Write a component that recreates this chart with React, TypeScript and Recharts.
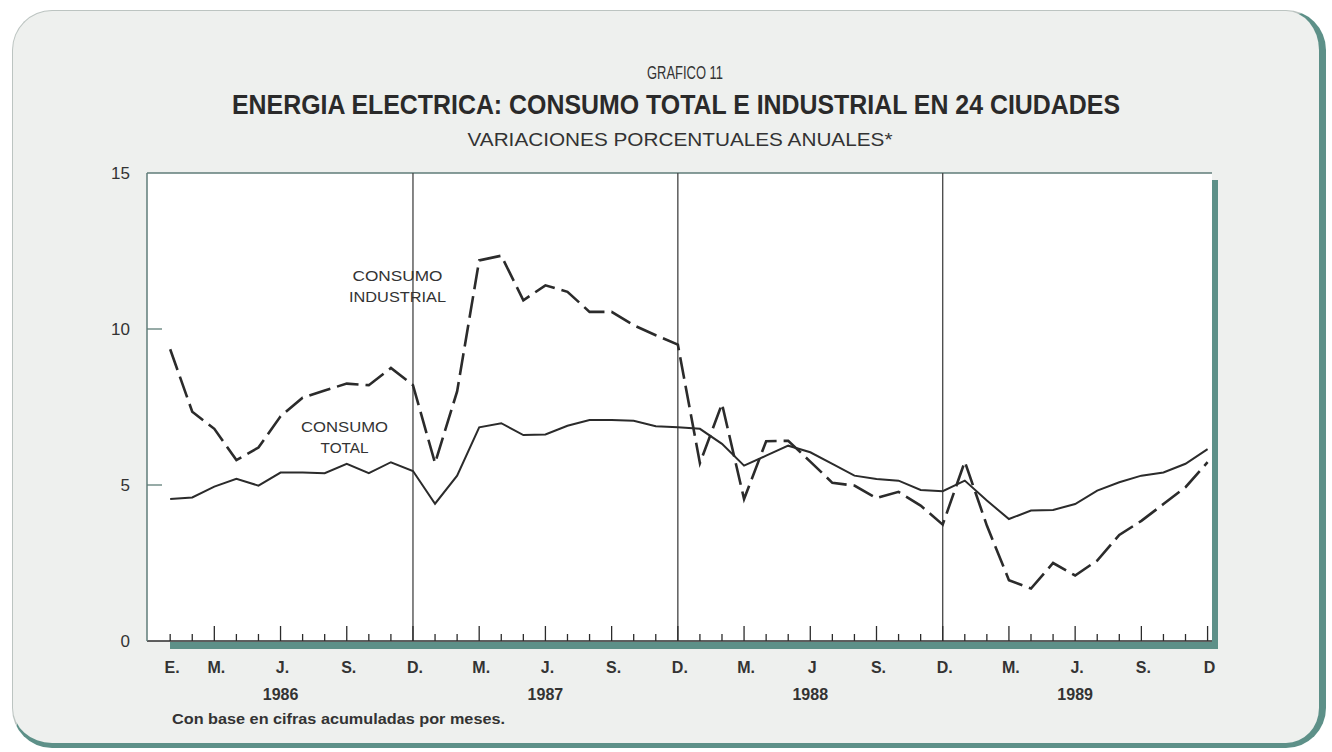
import React from 'react';
import { LineChart, Line, XAxis, YAxis, ReferenceLine, ReferenceDot } from 'recharts';

/**
 * Gráfico 11 — energía eléctrica: consumo total e industrial en 24 ciudades.
 * Variaciones porcentuales anuales, enero 1986 – diciembre 1989 (mensual).
 */

// tick labels under the months (E. = enero ... D. = diciembre)
const tickLabels = [
  'E.', '', 'M.', '', '', 'J.', '', '', 'S.', '', '', 'D.',
  '', '', 'M.', '', '', 'J.', '', '', 'S.', '', '', 'D.',
  '', '', 'M.', '', '', 'J', '', '', 'S.', '', '', 'D.',
  '', '', 'M.', '', '', 'J.', '', '', 'S.', '', '', 'D',
];
const years = ['1986', '1987', '1988', '1989'];

const consumoTotal = [
  4.55, 4.6, 4.95, 5.2, 4.98, 5.4, 5.4, 5.38, 5.68, 5.38, 5.73, 5.45,
  4.4, 5.3, 6.85, 6.98, 6.6, 6.62, 6.9, 7.08, 7.08, 7.06, 6.88, 6.85,
  6.8, 6.32, 5.62, 5.94, 6.26, 6.05, 5.68, 5.3, 5.19, 5.14, 4.84, 4.8,
  5.14, 4.5, 3.91, 4.18, 4.2, 4.39, 4.82, 5.09, 5.3, 5.4, 5.68, 6.15,
];

const consumoIndustrial = [
  9.35, 7.35, 6.8, 5.8, 6.2, 7.2, 7.8, 8.03, 8.25, 8.2, 8.75, 8.2,
  5.7, 8.0, 12.2, 12.35, 10.92, 11.4, 11.19, 10.55, 10.55, 10.12, 9.8, 9.5,
  5.7, 7.6, 4.55, 6.4, 6.42, 5.75, 5.07, 4.98, 4.58, 4.78, 4.34, 3.73,
  5.75, 3.7, 1.95, 1.68, 2.5, 2.1, 2.58, 3.4, 3.85, 4.39, 4.93, 5.73,
];

const yTicks = [0, 5, 10, 15];
const separators = [11, 23, 35];

const INK = '#2b2b2b';
const TEAL = '#5d9088';
const FONT = '"Liberation Sans", Arial, Helvetica, sans-serif';

const data = consumoTotal.map((t, i) => ({ i, total: t, industrial: consumoIndustrial[i] }));
const monthIdx = data.map((d) => d.i);

function MonthTick(props: any) {
  const { x, y, payload } = props;
  const i = payload.value as number;
  const m = i % 12;
  const tall = m === 2 || m === 5 || m === 8 || m === 11;
  const label = tickLabels[i];
  const year = m === 5 ? years[Math.floor(i / 12)] : null;
  return (
    <g>
      <line x1={x} y1={y} x2={x} y2={y - (tall ? 15 : 7)} stroke={INK} strokeWidth={1.3} />
      {label && (
        <text x={x + 2} y={y + 32} textAnchor="middle" fontSize={16} fontWeight={600} fill="#333" fontFamily={FONT}>
          {label}
        </text>
      )}
      {year && (
        <text x={x} y={y + 59} textAnchor="middle" fontSize={16} fontWeight={600} fill="#333" fontFamily={FONT}>
          {year}
        </text>
      )}
    </g>
  );
}

function LeftTick(props: any) {
  const { x, y, payload } = props;
  const v = payload.value as number;
  return (
    <g>
      {(v === 5 || v === 10) && <line x1={x} y1={y} x2={x + 15} y2={y} stroke="#5f7d78" strokeWidth={1.3} />}
      <text x={x - 17} y={y + 6} textAnchor="end" fontSize={17} fill="#333" fontFamily={FONT}>{v}</text>
    </g>
  );
}

function RightTick(props: any) {
  const { x, y, payload } = props;
  const v = payload.value as number;
  return (
    <g>
      {(v === 5 || v === 10) && <line x1={x - 15} y1={y} x2={x} y2={y} stroke="#5f7d78" strokeWidth={1.3} />}
      <text x={x + 12} y={y + 6} textAnchor="start" fontSize={17} fill="#333" fontFamily={FONT}>{v}</text>
    </g>
  );
}

function textShape(lines: string[], widths: number[]) {
  return (p: any) => (
    <g>
      {lines.map((s, k) => (
        <text
          key={k}
          x={p.cx}
          y={p.cy + k * 21}
          textAnchor="middle"
          fontSize={15}
          fill="#333"
          fontFamily={FONT}
          textLength={widths[k]}
          lengthAdjust="spacingAndGlyphs"
        >
          {s}
        </text>
      ))}
    </g>
  );
}

export default function App() {
  return (
    <div style={{ position: 'absolute', left: 0, top: 0, width: 1332, height: 752, background: '#fff', overflow: 'hidden' }}>
      {/* scanned page card */}
      <div
        style={{
          position: 'absolute', left: 12, top: 10, width: 1314, height: 738,
          boxSizing: 'border-box', borderRadius: 40, background: '#eef0ee',
          borderTop: '1.5px solid #bcc4c1', borderLeft: '1.5px solid #bcc4c1',
          borderRight: `7px solid ${TEAL}`, borderBottom: `5px solid ${TEAL}`,
        }}
      />
      {/* plot paper + its drop shadow */}
      <div style={{ position: 'absolute', left: 1212, top: 180, width: 6, height: 469, background: TEAL }} />
      <div style={{ position: 'absolute', left: 170, top: 642, width: 1048, height: 7, background: TEAL }} />
      <div style={{ position: 'absolute', left: 147, top: 173, width: 1065, height: 468, background: '#fff' }} />

      <svg width={1332} height={752} style={{ position: 'absolute', left: 0, top: 0 }} fontFamily={FONT}>
        <text x={685} y={79} textAnchor="middle" fontSize={18} fill="#333" textLength={76} lengthAdjust="spacingAndGlyphs">
          GRAFICO 11
        </text>
        <text x={676} y={114} textAnchor="middle" fontSize={27} fontWeight={700} fill="#2a2a2a" textLength={888} lengthAdjust="spacingAndGlyphs">
          ENERGIA ELECTRICA: CONSUMO TOTAL E INDUSTRIAL EN 24 CIUDADES
        </text>
        <text x={680} y={146} textAnchor="middle" fontSize={18} fill="#333" textLength={425} lengthAdjust="spacingAndGlyphs">
          VARIACIONES PORCENTUALES ANUALES*
        </text>
        <text x={172} y={724} fontSize={15} fontWeight={600} fill="#333" textLength={333} lengthAdjust="spacingAndGlyphs">
          Con base en cifras acumuladas por meses.
        </text>
      </svg>

      <div style={{ position: 'absolute', left: 0, top: 0 }}>
        <LineChart width={1332} height={752} data={data} margin={{ top: 173, right: 70, bottom: 31, left: 97 }}>
          <XAxis
            dataKey="i"
            type="number"
            domain={[-1.05, 47.2]}
            ticks={monthIdx}
            interval={0}
            height={80}
            tickSize={0}
            tickMargin={0}
            tick={<MonthTick />}
            axisLine={{ stroke: INK, strokeWidth: 1.5 }}
            tickLine={false}
            allowDataOverflow
          />
          <YAxis
            yAxisId="l"
            orientation="left"
            width={50}
            domain={[0, 15]}
            ticks={yTicks}
            tickSize={0}
            tickMargin={0}
            tick={<LeftTick />}
            axisLine={{ stroke: '#5f7d78', strokeWidth: 1.5 }}
            tickLine={false}
          />
          <YAxis
            yAxisId="r"
            orientation="right"
            width={50}
            domain={[0, 15]}
            ticks={yTicks}
            tickSize={0}
            tickMargin={0}
            tick={<RightTick />}
            axisLine={false}
            tickLine={false}
          />
          <ReferenceLine yAxisId="l" y={15} stroke="#5f7d78" strokeWidth={1.5} />
          {separators.map((s) => (
            <ReferenceLine key={s} yAxisId="l" x={s} stroke="#444" strokeWidth={1.3} />
          ))}
          <Line
            yAxisId="l"
            dataKey="industrial"
            type="linear"
            stroke={INK}
            strokeWidth={2.6}
            strokeDasharray="22 7"
            dot={false}
            isAnimationActive={false}
          />
          <Line
            yAxisId="l"
            dataKey="total"
            type="linear"
            stroke={INK}
            strokeWidth={2}
            dot={false}
            isAnimationActive={false}
          />
          <ReferenceDot yAxisId="l" x={10.3} y={11.55} r={0} shape={textShape(['CONSUMO', 'INDUSTRIAL'], [90, 97])} />
          <ReferenceDot yAxisId="l" x={7.9} y={6.7} r={0} shape={textShape(['CONSUMO', 'TOTAL'], [87, 48])} />
        </LineChart>
      </div>
    </div>
  );
}
